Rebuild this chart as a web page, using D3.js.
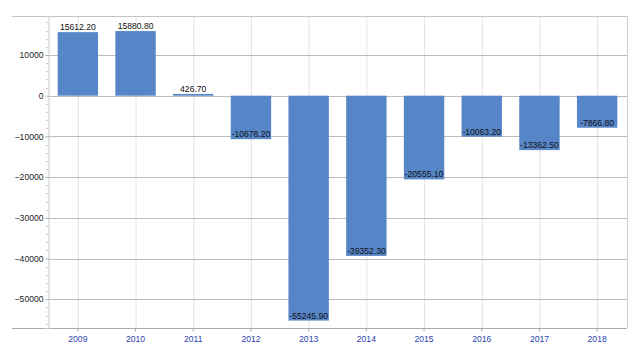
<!DOCTYPE html>
<html>
<head>
<meta charset="utf-8">
<script src="https://cdn.jsdelivr.net/npm/d3@7"></script>
<style>
  html, body { margin: 0; padding: 0; background: #fff; }
  svg { display: block; font-family: "Liberation Sans", Arial, sans-serif; }
</style>
</head>
<body>
<div id="chart"></div>
<script>
const years = ["2009", "2010", "2011", "2012", "2013", "2014", "2015", "2016", "2017", "2018"];
const values = [15612.20, 15880.80, 426.70, -10678.20, -55245.90, -39352.30, -20555.10, -10063.20, -13362.50, -7866.80];
const yTicks = [-50000, -40000, -30000, -20000, -10000, 0, 10000];

const width = 640, height = 352;
const frame = {left: 12, right: 627, top: 16, bottom: 328};
const plot = {left: 49, right: 626};
const fontSize = 8.6;

const svg = d3.select("#chart").append("svg")
    .attr("width", width)
    .attr("height", height);

// scales
const x = d3.scaleBand()
    .domain(years)
    .range([plot.left, plot.right])
    .paddingInner(0.3)
    .paddingOuter(0.15);

const y = d3.scaleLinear()
    .domain([-57070, 19580])
    .range([frame.bottom, frame.top]);

const centre = d => x(d) + x.bandwidth() / 2;

// vertical grid at category centres
svg.append("g")
    .selectAll("line")
    .data(years)
    .join("line")
        .attr("x1", d => centre(d) + 0.5)
        .attr("x2", d => centre(d) + 0.5)
        .attr("y1", frame.top)
        .attr("y2", frame.bottom)
        .attr("stroke", "#e4e4e4");

// horizontal grid
svg.append("g")
    .selectAll("line")
    .data(yTicks)
    .join("line")
        .attr("x1", 48)
        .attr("x2", frame.right)
        .attr("y1", d => Math.round(y(d)) + 0.5)
        .attr("y2", d => Math.round(y(d)) + 0.5)
        .attr("stroke", "#bdbdbd");

// frame lines
svg.append("line")
    .attr("x1", frame.left).attr("x2", frame.right)
    .attr("y1", frame.top + 0.5).attr("y2", frame.top + 0.5)
    .attr("stroke", "#c4c4c4");
svg.append("line")
    .attr("x1", frame.left).attr("x2", frame.right)
    .attr("y1", frame.bottom + 0.5).attr("y2", frame.bottom + 0.5)
    .attr("stroke", "#aaaaaa");
svg.append("line")
    .attr("x1", frame.right + 0.5).attr("x2", frame.right + 0.5)
    .attr("y1", frame.top).attr("y2", frame.bottom)
    .attr("stroke", "#d0d0d0");

// bars
svg.append("g")
    .selectAll("rect")
    .data(values)
    .join("rect")
        .attr("x", (d, i) => x(years[i]))
        .attr("width", x.bandwidth())
        .attr("y", d => y(Math.max(0, d)))
        .attr("height", d => Math.abs(y(d) - y(0)))
        .attr("fill", "#5786c8");

// value labels
svg.append("g")
    .selectAll("text")
    .data(values)
    .join("text")
        .attr("x", (d, i) => centre(years[i]))
        .attr("y", d => y(d) - 2)
        .attr("text-anchor", "middle")
        .attr("font-size", fontSize)
        .attr("fill", "#111")
        .text(d => d.toFixed(2));

// y axis
const yAxis = svg.append("g")
    .attr("transform", "translate(48.5,0)")
    .call(d3.axisLeft(y).tickValues(yTicks).tickSize(3).tickPadding(2).tickFormat(d3.format("d")));
yAxis.select(".domain").attr("stroke", "#c8c8c8");
yAxis.selectAll(".tick line").attr("stroke", "#aaa");
yAxis.selectAll(".tick text")
    .attr("font-size", fontSize)
    .attr("fill", "#222")
    .attr("font-family", "Liberation Sans, Arial, sans-serif");

// minor ticks
svg.append("g")
    .selectAll("line")
    .data(d3.range(-56000, 19000, 2000).filter(v => v % 10000 !== 0))
    .join("line")
        .attr("x1", 46)
        .attr("x2", 48)
        .attr("y1", d => Math.round(y(d)) + 0.5)
        .attr("y2", d => Math.round(y(d)) + 0.5)
        .attr("stroke", "#d8c8c8");

// x axis
const xAxis = svg.append("g")
    .attr("transform", `translate(0,${frame.bottom + 0.5})`)
    .call(d3.axisBottom(x).tickSize(3).tickPadding(4));
xAxis.select(".domain").remove();
xAxis.selectAll(".tick line").attr("stroke", "#aaa");
xAxis.selectAll(".tick text")
    .attr("font-size", fontSize)
    .attr("fill", "#2a3fb0")
    .attr("font-family", "Liberation Sans, Arial, sans-serif");
</script>
</body>
</html>
